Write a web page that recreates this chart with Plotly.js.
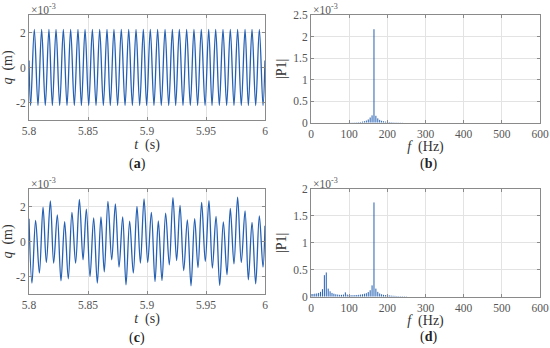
<!DOCTYPE html>
<html><head><meta charset="utf-8">
<script src="https://cdn.plot.ly/plotly-3.0.1.min.js"></script>
<style>html,body{margin:0;padding:0;background:#fff}#c{width:550px;height:348px}</style>
</head><body><div id="c"></div>
<script>
// (a) extremes of q(t), units 1e-3 m
const tA = [5.8000, 5.8014, 5.8045, 5.8076, 5.8107, 5.8138, 5.8169, 5.8198, 5.8229, 5.8260, 5.8291, 5.8322, 5.8353, 5.8384, 5.8415, 5.8444, 5.8475, 5.8506, 5.8537, 5.8568, 5.8599, 5.8630, 5.8661, 5.8689, 5.8720, 5.8751, 5.8782, 5.8814, 5.8845, 5.8876, 5.8907, 5.8938, 5.8969, 5.8997, 5.9028, 5.9059, 5.9090, 5.9121, 5.9153, 5.9184, 5.9215, 5.9243, 5.9274, 5.9305, 5.9336, 5.9367, 5.9398, 5.9429, 5.9460, 5.9492, 5.9523, 5.9551, 5.9582, 5.9613, 5.9644, 5.9675, 5.9706, 5.9737, 5.9768, 5.9799, 5.9831, 5.9859, 5.9890, 5.9921, 5.9952, 5.9983, 6.0000];
const qA = [0.4, -2.17, 2.17, -2.17, 2.17, -2.17, 2.17, -2.17, 2.17, -2.17, 2.17, -2.17, 2.17, -2.17, 2.17, -2.17, 2.17, -2.17, 2.17, -2.17, 2.17, -2.17, 2.17, -2.17, 2.17, -2.17, 2.17, -2.17, 2.17, -2.17, 2.17, -2.17, 2.17, -2.17, 2.17, -2.17, 2.17, -2.17, 2.17, -2.17, 2.17, -2.17, 2.17, -2.17, 2.17, -2.17, 2.17, -2.17, 2.17, -2.17, 2.17, -2.17, 2.17, -2.17, 2.17, -2.17, 2.17, -2.17, 2.17, -2.17, 2.17, -2.17, 2.17, -2.17, 2.17, -2.17, 0.4];
// (c) extremes of q(t), units 1e-3 m
const tC = [5.8000, 5.8025, 5.8056, 5.8088, 5.8119, 5.8147, 5.8181, 5.8209, 5.8240, 5.8271, 5.8302, 5.8333, 5.8364, 5.8395, 5.8427, 5.8458, 5.8486, 5.8517, 5.8548, 5.8579, 5.8610, 5.8638, 5.8669, 5.8701, 5.8732, 5.8763, 5.8794, 5.8822, 5.8853, 5.8884, 5.8915, 5.8944, 5.8975, 5.9006, 5.9037, 5.9068, 5.9096, 5.9127, 5.9158, 5.9189, 5.9220, 5.9251, 5.9280, 5.9311, 5.9342, 5.9373, 5.9404, 5.9432, 5.9463, 5.9494, 5.9525, 5.9554, 5.9585, 5.9616, 5.9647, 5.9678, 5.9706, 5.9737, 5.9768, 5.9799, 5.9831, 5.9859, 5.9890, 5.9921, 5.9952, 5.9983, 6.0000];
const qC = [1.3, -2.38, 1.2, -1.8, 1.96, -1.2, 2.32, -1.24, 1.52, -2.25, 1.14, -2.13, 1.66, -1.24, 2.4, -1.05, 1.85, -2.0, 1.35, -2.38, 1.4, -1.73, 2.29, -1.05, 2.15, -1.47, 1.4, -2.48, 1.16, -1.8, 2.0, -1.24, 2.44, -1.2, 1.66, -2.29, 1.18, -2.23, 1.62, -1.33, 2.51, -1.09, 2.06, -1.66, 1.24, -2.53, 1.3, -1.5, 2.23, -1.14, 2.34, -1.52, 1.43, -2.51, 1.12, -1.9, 1.89, -1.28, 2.53, -1.2, 1.75, -2.19, 1.09, -2.42, 1.47, -1.47, 0.9];
// spectra, frequency bins (Hz) and |P1| in units 1e-3
const fBins = [0, 5, 10, 15, 20, 25, 30, 35, 40, 45, 50, 55, 60, 65, 70, 75, 80, 85, 90, 95, 100, 105, 110, 115, 120, 125, 130, 135, 140, 145, 150, 155, 160, 165, 170, 175, 180, 185, 190, 195, 200, 205, 210, 215, 220, 225, 230, 235, 240, 245, 250];
const pB = [0.002, 0.002, 0.002, 0.002, 0.002, 0.002, 0.002, 0.002, 0.002, 0.002, 0.002, 0.002, 0.002, 0.002, 0.002, 0.002, 0.002, 0.002, 0.002, 0.002, 0.004, 0.005, 0.006, 0.008, 0.01, 0.013, 0.017, 0.025, 0.035, 0.05, 0.075, 0.12, 0.17, 2.17, 0.16, 0.1, 0.065, 0.045, 0.033, 0.025, 0.02, 0.016, 0.013, 0.01, 0.008, 0.007, 0.006, 0.005, 0.004, 0.003, 0.003];
const pD = [0.05, 0.05, 0.055, 0.06, 0.07, 0.09, 0.14, 0.40, 0.45, 0.15, 0.1, 0.07, 0.055, 0.045, 0.04, 0.035, 0.035, 0.04, 0.08, 0.04, 0.03, 0.028, 0.028, 0.03, 0.032, 0.035, 0.04, 0.045, 0.055, 0.065, 0.085, 0.12, 0.21, 1.75, 0.15, 0.09, 0.06, 0.045, 0.035, 0.03, 0.035, 0.025, 0.02, 0.017, 0.015, 0.012, 0.01, 0.009, 0.008, 0.007, 0.006];

const tTicks = [5.8, 5.85, 5.9, 5.95, 6];
const tTickText = ['5.8', '5.85', '5.9', '5.95', '6'];
const qTicks = [-2, 0, 2];
const qTickText = ['-2', '0', '2'];
const fTicks = [0, 100, 200, 300, 400, 500, 600];
const pTicksB = [0, 0.5, 1, 1.5, 2, 2.5];
const pTicksD = [0, 0.5, 1, 1.5, 2];

// stems: vertical segments from 0 to each value (drawn through the axes)
function stems(f, p) {
  const xs = [], ys = [];
  f.forEach((v, i) => { xs.push(v, v, null); ys.push(0, p[i], null); });
  return {x: xs, y: ys};
}

const LC = '#2660b2';
const FONT = "'Liberation Serif', 'DejaVu Serif', serif";
const axBase = {
  showline: true, linecolor: '#8a8a8a', linewidth: 1, mirror: 'ticks',
  ticks: 'inside', ticklen: 3, tickcolor: '#8a8a8a',
  showgrid: true, gridcolor: '#e3e3e3', gridwidth: 1, zeroline: false,
  tickfont: {family: FONT, size: 11.5, color: '#555'}, fixedrange: true
};
function ax(extra) { return Object.assign({}, axBase, extra); }

const W = 550, H = 348;
function dx(a, b) { return [a / W, b / W]; }
function dy(top, bot) { return [1 - bot / H, 1 - top / H]; }

const sB = stems(fBins, pB), sD = stems(fBins, pD);
const data = [
  {x: tA, y: qA, type: 'scatter', mode: 'lines', line: {color: LC, width: 1.3, shape: 'spline', smoothing: 1}, xaxis: 'x', yaxis: 'y', hoverinfo: 'skip'},
  {x: sB.x, y: sB.y, type: 'scatter', mode: 'lines', line: {color: LC, width: 1}, connectgaps: false, xaxis: 'x2', yaxis: 'y2', hoverinfo: 'skip'},
  {x: tC, y: qC, type: 'scatter', mode: 'lines', line: {color: LC, width: 1.3, shape: 'spline', smoothing: 1}, xaxis: 'x3', yaxis: 'y3', hoverinfo: 'skip'},
  {x: sD.x, y: sD.y, type: 'scatter', mode: 'lines', line: {color: LC, width: 1}, connectgaps: false, xaxis: 'x4', yaxis: 'y4', hoverinfo: 'skip'}
];

const titleFont = {family: FONT, size: 14, color: '#333'};
const layout = {
  width: W, height: H, margin: {l: 0, r: 0, t: 0, b: 0},
  paper_bgcolor: '#fff', plot_bgcolor: '#fff', showlegend: false,
  font: {family: FONT},
  xaxis: ax({domain: dx(29, 265), range: [5.8, 6], tickvals: tTicks, ticktext: tTickText, anchor: 'y',
    title: {text: '<i>t</i>  (s)', font: titleFont, standoff: 0}}),
  yaxis: ax({domain: dy(15, 120), range: [-3, 3], tickvals: qTicks, ticktext: qTickText, anchor: 'x',
    title: {text: '<i>q</i>  (m)', font: titleFont, standoff: 2}}),
  xaxis2: ax({domain: dx(311, 540), range: [0, 600], tickvals: fTicks, anchor: 'y2',
    title: {text: '<i>f</i>  (Hz)', font: titleFont, standoff: 0}}),
  yaxis2: ax({domain: dy(15, 122.7), range: [0, 2.5], tickvals: pTicksB, anchor: 'x2',
    title: {text: '|P1|', font: titleFont, standoff: 3}}),
  xaxis3: ax({domain: dx(29, 265), range: [5.8, 6], tickvals: tTicks, ticktext: tTickText, anchor: 'y3',
    title: {text: '<i>t</i>  (s)', font: titleFont, standoff: 0}}),
  yaxis3: ax({domain: dy(189, 294), range: [-3, 3], tickvals: qTicks, ticktext: qTickText, anchor: 'x3',
    title: {text: '<i>q</i>  (m)', font: titleFont, standoff: 2}}),
  xaxis4: ax({domain: dx(311, 540), range: [0, 600], tickvals: fTicks, anchor: 'y4',
    title: {text: '<i>f</i>  (Hz)', font: titleFont, standoff: 0}}),
  yaxis4: ax({domain: dy(189, 296.7), range: [0, 2], tickvals: pTicksD, anchor: 'x4',
    title: {text: '|P1|', font: titleFont, standoff: 3}}),
  annotations: [
    ['x', 'y'], ['x2', 'y2'], ['x3', 'y3'], ['x4', 'y4']
  ].map(([xa, ya]) => ({
    xref: xa + ' domain', yref: ya + ' domain', x: 0, y: 1, xanchor: 'left', yanchor: 'bottom',
    text: '×10<sup>-3</sup>', showarrow: false, font: {family: FONT, size: 11.5, color: '#555'}, yshift: -3
  })).concat([
    {text: '(<b>a</b>)', x: 137 / W, y: 1 - 164 / H},
    {text: '(<b>b</b>)', x: 428 / W, y: 1 - 164 / H},
    {text: '(<b>c</b>)', x: 137 / W, y: 1 - 338 / H},
    {text: '(<b>d</b>)', x: 428 / W, y: 1 - 337 / H}
  ].map(a => Object.assign({xref: 'paper', yref: 'paper', xanchor: 'center', yanchor: 'middle', showarrow: false,
    font: {family: FONT, size: 14, color: '#222'}}, a)))
};

Plotly.newPlot('c', data, layout, {displayModeBar: false, staticPlot: true});
</script></body></html>
